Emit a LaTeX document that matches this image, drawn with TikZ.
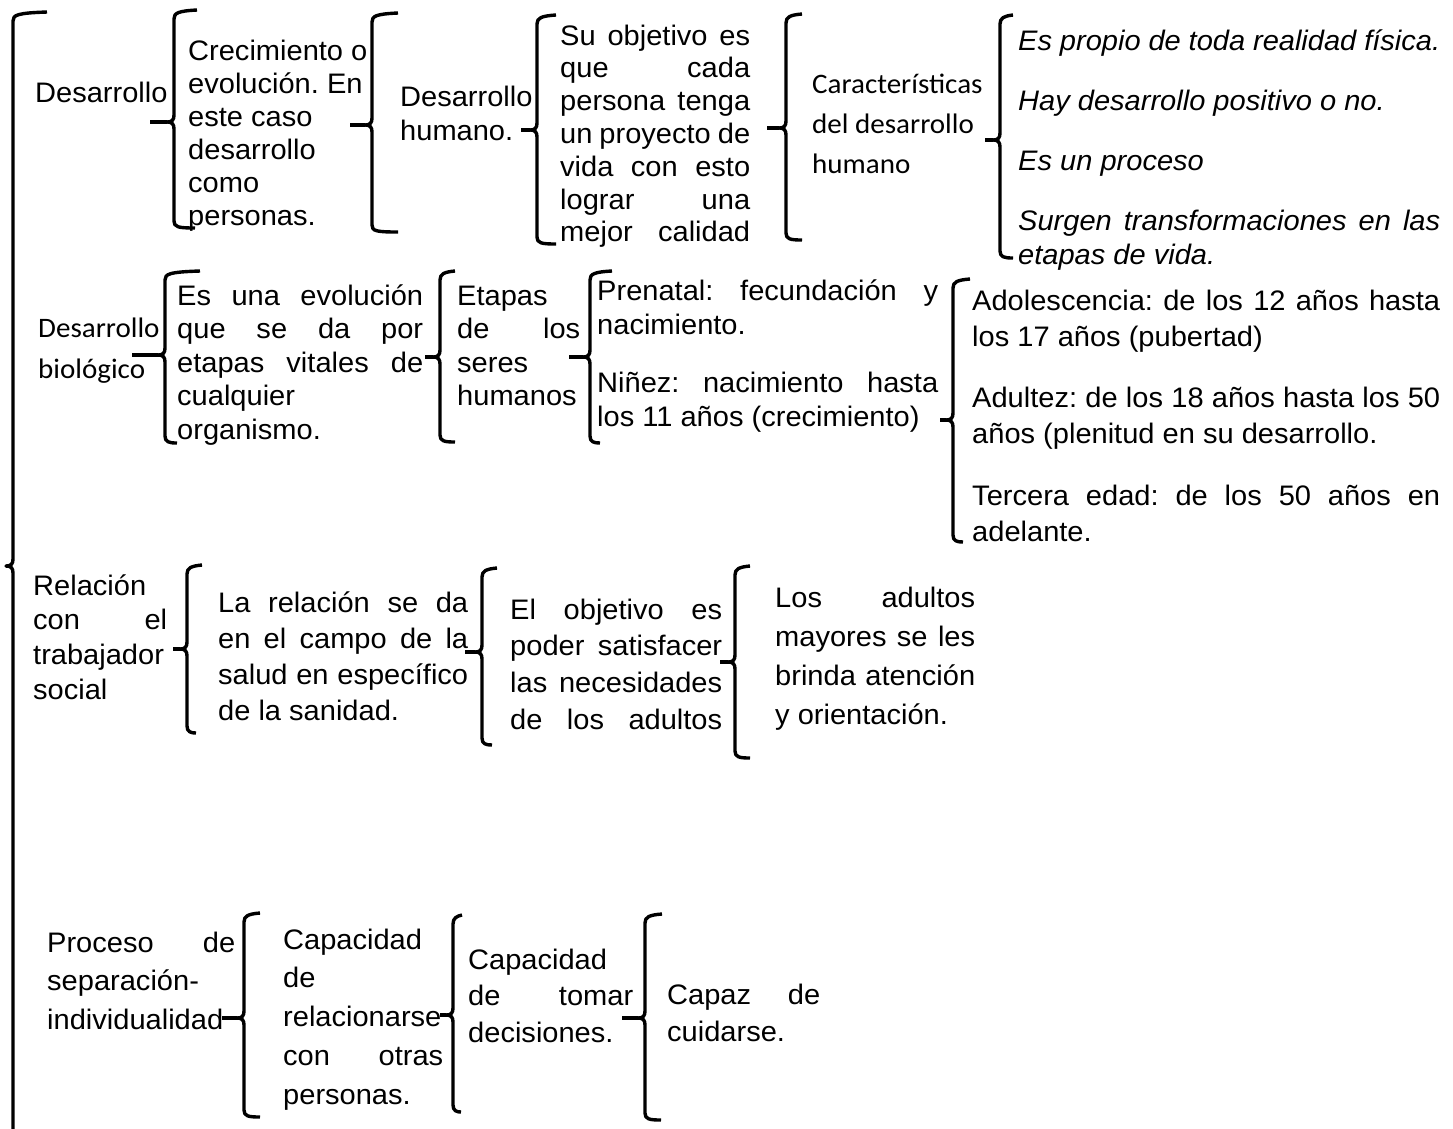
\documentclass[tikz,border=0pt]{standalone}
\usepackage{fontspec}
\setmainfont{Liberation Sans}[FakeStretch=1.03]
\newfontfamily\calib{Carlito}[FakeStretch=1.03]
\frenchspacing
\newcommand\J[1]{\makebox[\linewidth][s]{#1}}
\newcommand\fs[1]{\fontsize{28.2}{#1}\selectfont}
\tikzset{
  txt/.style={inner sep=0pt, anchor=base west, text=black},
  brkline/.style={line width=3.4pt, line cap=butt, line join=round, black},
}
% #1 tip name, #2 x, #3 top, #4 bottom, #5 tick y, #6 top stub end x, #7 bottom stub end x
\newcommand\brk[7]{%
  \draw[brkline] (#6,#3-2) .. controls (#2+4,#3-1) and (#2,#3+1) .. (#2,#3+7)
    -- (#2,#5-7) .. controls (#2,#5-2) and (#2-2,#5) .. (#2-7,#5) coordinate (#1)
    .. controls (#2-2,#5) and (#2,#5+2) .. (#2,#5+7)
    -- (#2,#4-7) .. controls (#2,#4-1) and (#2+4,#4) .. (#7,#4);}
\begin{document}
\frenchspacing
\begin{tikzpicture}[x=1pt,y=-1pt]
\useasboundingbox (0,0) rectangle (1453,1128);
\fill[white] (0,0) rectangle (1453,1128);

% ---------- brackets ----------
\brk{b0}{13}{14}{1140}{566}{47}{47}
\brk{b1}{174}{12}{228}{122}{197}{195}
\brk{b2}{372}{15}{232}{125}{398}{398}
\brk{b3}{537}{17}{244}{130}{556}{556}
\brk{b4}{786}{16}{240}{128}{802}{802}
\brk{b5}{1000}{17}{258}{140}{1013}{1013}
\brk{c1}{165}{273}{443}{355}{200}{177}
\brk{c2}{440}{273}{442}{357}{455}{455}
\brk{c3}{590}{273}{443}{357}{612}{600}
\brk{c4}{953}{281}{542}{420}{970}{963}
\brk{d1}{187}{567}{733}{649}{202}{196}
\brk{d2}{482}{570}{745}{652}{497}{492}
\brk{d3}{735}{568}{758}{662}{750}{750}
\brk{e1}{244}{915}{1117}{1018}{260}{260}
\brk{e2}{453}{917}{1112}{1015}{462}{461}
\brk{e3}{645}{916}{1120}{1018}{662}{661}

% ---------- connector starts ----------
\coordinate (s1) at (150,122);
\coordinate (s2) at (350,125);
\coordinate (s3) at (521,130);
\coordinate (s4) at (767,128);
\coordinate (s5) at (985,140);
\coordinate (sc1) at (132,355);
\coordinate (sc2) at (425,357);
\coordinate (sc3) at (569,357);
\coordinate (sc4) at (940,420);
\coordinate (sd1) at (173,649);
\coordinate (sd2) at (465,652);
\coordinate (sd3) at (720,662);
\coordinate (se1) at (222,1018);
\coordinate (se2) at (440,1015);
\coordinate (se3) at (622,1018);
\foreach \a/\b in {s1/b1,s2/b2,s3/b3,s4/b4,s5/b5,sc1/c1,sc2/c2,sc3/c3,sc4/c4,sd1/d1,sd2/d2,sd3/d3,se1/e1,se2/e2,se3/e3}
  \draw[brkline] (\a) -- (\b);

% ---------- row 1 ----------
\node[txt] (t1) at (35,102) {\fs{33}Desarrollo};
\node[txt] (t2) at (188,60) {\parbox[t]{185pt}{\fs{33}Crecimiento o\\evolución. En\\este caso\\desarrollo\\como\\personas.}};
\node[txt] (t3) at (400,106) {\parbox[t]{135pt}{\fs{34}Desarrollo\\humano.}};
\node[txt] (t4) at (560,45) {\parbox[t]{190pt}{\fs{32.8}\J{Su objetivo es}\\\J{que cada}\\\J{persona tenga}\\\J{un proyecto de}\\\J{vida con esto}\\\J{lograr una}\\\J{mejor calidad}}};
\node[txt] (t5) at (812,93) {\parbox[t]{180pt}{\calib\fs{40}Características\\del desarrollo\\humano}};
\node[txt] (t6) at (1018,50) {\parbox[t]{422pt}{\itshape\fs{34}Es propio de toda realidad física.\\[26pt]Hay desarrollo positivo o no.\\[26pt]Es un proceso\\[26pt]\J{Surgen transformaciones en las}\\etapas de vida.}};

% ---------- row 2 ----------
\node[txt] (t7) at (38,337) {\parbox[t]{125pt}{\calib\fs{41}Desarrollo\\biológico}};
\node[txt] (t8) at (177,305) {\parbox[t]{246pt}{\fs{33.5}\J{Es una evolución}\\\J{que se da por}\\\J{etapas vitales de}\\cualquier\\organismo.}};
\node[txt] (t9) at (457,305) {\parbox[t]{123pt}{\fs{33.5}Etapas\\\J{de los}\\seres\\humanos}};
\node[txt] (t10) at (597,300) {\parbox[t]{341pt}{\fs{34}\J{Prenatal: fecundación y}\\nacimiento.\\[24pt]\J{Niñez: nacimiento hasta}\\los 11 años (crecimiento)}};
\node[txt] (t11) at (972,310) {\parbox[t]{468pt}{\fs{36}\J{Adolescencia: de los 12 años hasta}\\los 17 años (pubertad)\\[25pt]\J{Adultez: de los 18 años hasta los 50}\\años (plenitud en su desarrollo.\\[26pt]\J{Tercera edad: de los 50 años en}\\adelante.}};

% ---------- row 3 ----------
\node[txt] (t12) at (33,595) {\parbox[t]{134pt}{\fs{34.7}Relación\\\J{con el}\\trabajador\\social}};
\node[txt] (t13) at (218,612) {\parbox[t]{250pt}{\fs{36}\J{La relación se da}\\\J{en el campo de la}\\\J{salud en específico}\\de la sanidad.}};
\node[txt] (t14) at (510,619) {\parbox[t]{212pt}{\fs{36.7}\J{El objetivo es}\\\J{poder satisfacer}\\\J{las necesidades}\\\J{de los adultos}}};
\node[txt] (t15) at (775,607) {\parbox[t]{200pt}{\fs{39}\J{Los adultos}\\\J{mayores se les}\\\J{brinda atención}\\y orientación.}};

% ---------- row 4 ----------
\node[txt] (t16) at (47,952) {\parbox[t]{188pt}{\fs{38.5}\J{Proceso de}\\separación-\\individualidad}};
\node[txt] (t17) at (283,949) {\parbox[t]{160pt}{\fs{38.8}Capacidad\\de\\relacionarse\\\J{con otras}\\personas.}};
\node[txt] (t18) at (468,969) {\parbox[t]{165pt}{\fs{36.5}Capacidad\\\J{de tomar}\\decisiones.}};
\node[txt] (t19) at (667,1004) {\parbox[t]{153pt}{\fs{37.5}\J{Capaz de}\\cuidarse.}};
\end{tikzpicture}
\end{document}
